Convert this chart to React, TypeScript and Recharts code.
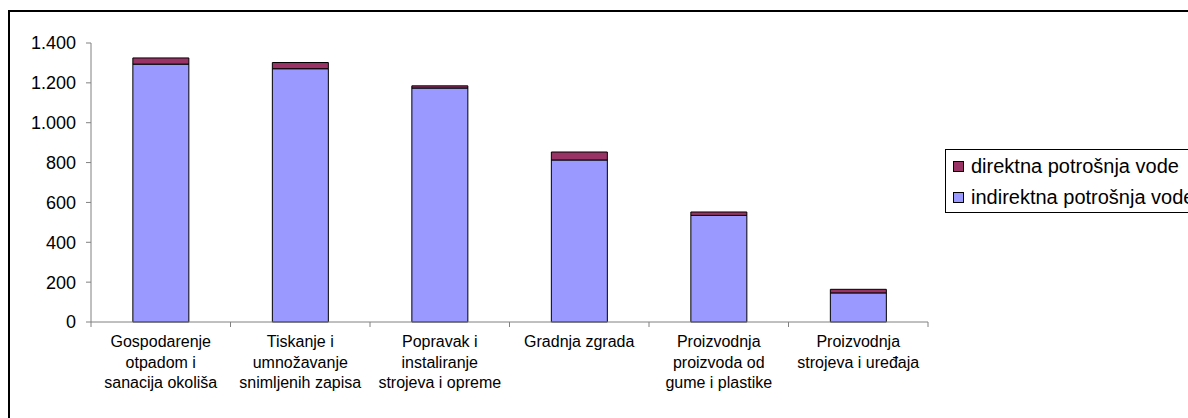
import React from 'react';
import { BarChart, Bar, XAxis, YAxis } from 'recharts';

const categories = [
  'Gospodarenje otpadom i sanacija okoliša',
  'Tiskanje i umnožavanje snimljenih zapisa',
  'Popravak i instaliranje strojeva i opreme',
  'Gradnja zgrada',
  'Proizvodnja proizvoda od gume i plastike',
  'Proizvodnja strojeva i uređaja',
];
const categoryLines: string[][] = [
  ['Gospodarenje', 'otpadom i', 'sanacija okoliša'],
  ['Tiskanje i', 'umnožavanje', 'snimljenih zapisa'],
  ['Popravak i', 'instaliranje', 'strojeva i opreme'],
  ['Gradnja zgrada'],
  ['Proizvodnja', 'proizvoda od', 'gume i plastike'],
  ['Proizvodnja', 'strojeva i uređaja'],
];
const indirectValues = [1294, 1271, 1174, 813, 535, 146];
const directValues = [31, 31, 11, 40, 17, 18];
const yTicks = [0, 200, 400, 600, 800, 1000, 1200, 1400];
const seriesNames = { direct: 'direktna potrošnja vode', indirect: 'indirektna potrošnja vode' };

const BLUE = '#9999FF';
const MAROON = '#993366';
const FONT = "'Liberation Sans', Arial, sans-serif";

const data = categories.map((c, i) => ({ name: c, indirect: indirectValues[i], direct: directValues[i] }));

const fmt = (v: number) => String(v).replace(/\B(?=(\d{3})+(?!\d))/g, '.');

const CatTick = (props: any) => {
  const { x, y, payload, index, width, visibleTicksCount } = props;
  const half = width / visibleTicksCount / 2;
  const lines = categoryLines[index] || [String(payload.value)];
  return (
    <g>
      <line x1={x - half} y1={y} x2={x - half} y2={y + 5} stroke="#808080" />
      {index === visibleTicksCount - 1 && (
        <line x1={x + half} y1={y} x2={x + half} y2={y + 5} stroke="#808080" />
      )}
      <text x={x} y={y} textAnchor="middle" fontFamily={FONT} fontSize={16} fill="#000">
        {lines.map((l, i) => (
          <tspan key={i} x={x} dy={i === 0 ? 25 : 20.5}>{l}</tspan>
        ))}
      </text>
    </g>
  );
};

const legendItems = [
  { name: seriesNames.direct, color: MAROON, top: 4 },
  { name: seriesNames.indirect, color: BLUE, top: 35 },
];

export default function App() {
  return (
    <div style={{ position: 'absolute', left: 0, top: 0, width: 1188, height: 418, overflow: 'hidden', background: '#fff' }}>
      <div style={{ position: 'absolute', left: 8, top: 10, width: 1300, height: 500, border: '2px solid #000', boxSizing: 'border-box' }} />
      <div style={{ position: 'absolute', left: 0, top: 0 }}>
        <BarChart
          width={1188}
          height={418}
          data={data}
          margin={{ top: 43, right: 260, bottom: 36, left: 0 }}
          barCategoryGap="30%"
        >
          <XAxis
            dataKey="name"
            interval={0}
            height={60}
            axisLine={{ stroke: '#808080' }}
            tickLine={false}
            tickSize={0}
            tickMargin={0}
            tick={<CatTick />}
          />
          <YAxis
            width={91}
            domain={[0, 1400]}
            ticks={yTicks}
            interval={0}
            tickFormatter={fmt}
            axisLine={{ stroke: '#808080' }}
            tickLine={{ stroke: '#808080' }}
            tickSize={5}
            tickMargin={10}
            tick={{ fill: '#000', fontSize: 18, fontFamily: FONT }}
          />
          <Bar dataKey="indirect" name={seriesNames.indirect} stackId="a" fill={BLUE} stroke="#000" strokeWidth={1} isAnimationActive={false} />
          <Bar dataKey="direct" name={seriesNames.direct} stackId="a" fill={MAROON} stroke="#000" strokeWidth={1} isAnimationActive={false} />
        </BarChart>
      </div>
      <div style={{ position: 'absolute', left: 945, top: 149, width: 262, height: 62, border: '1px solid #000', background: '#fff', fontFamily: FONT, fontSize: 20 }}>
        {legendItems.map((it) => (
          <div key={it.name} style={{ position: 'absolute', left: 7, top: it.top, height: 24, display: 'flex', alignItems: 'center', whiteSpace: 'nowrap' }}>
            <span style={{ display: 'inline-block', width: 9, height: 9, background: it.color, border: '1px solid #000', marginRight: 7 }} />
            <span>{it.name}</span>
          </div>
        ))}
      </div>
    </div>
  );
}
